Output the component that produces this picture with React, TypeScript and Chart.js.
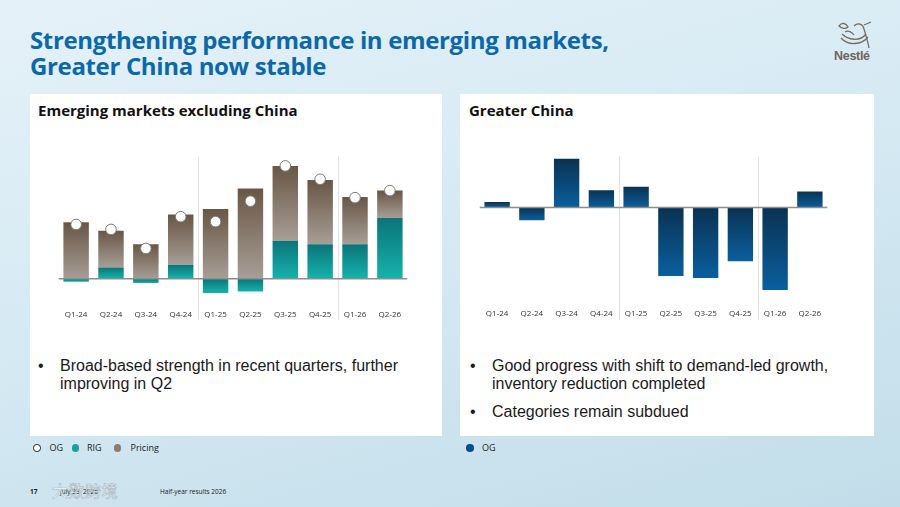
import React, { useEffect, useRef } from "react";
import { Chart, registerables } from "chart.js";

Chart.register(...registerables);

const quarters = ["Q1-24", "Q2-24", "Q3-24", "Q4-24", "Q1-25", "Q2-25", "Q3-25", "Q4-25", "Q1-26", "Q2-26"];
const emRig = [-0.4, 1.6, -0.6, 2.0, -2.0, -1.8, 5.4, 4.9, 4.9, 8.6];
const emPricing = [8.0, 5.2, 4.9, 7.1, 9.9, 12.8, 10.6, 9.1, 6.7, 3.9];
const emOg = [7.7, 7.0, 4.3, 8.8, 8.1, 11.0, 16.0, 14.1, 11.5, 12.5];
const gcOg = [0.8, -1.8, 7.0, 2.5, 3.0, -9.8, -10.1, -7.7, -11.8, 2.3];
const yearStarts = [4, 8];

const FONT = "'Open Sans', 'Liberation Sans', sans-serif";

function barGradient(c: any, from: number, to: number, topColor: string, bottomColor: string) {
  const chart = c.chart;
  const y = chart.scales && chart.scales.y;
  if (!y) return topColor;
  const p0 = y.getPixelForValue(from);
  const p1 = y.getPixelForValue(to);
  if (!isFinite(p0) || !isFinite(p1)) return topColor;
  const top = Math.min(p0, p1);
  let bottom = Math.max(p0, p1);
  if (bottom - top < 1) bottom = top + 1;
  const g = chart.ctx.createLinearGradient(0, top, 0, bottom);
  g.addColorStop(0, topColor);
  g.addColorStop(1, bottomColor);
  return g;
}

const decorPlugin = {
  id: "decor",
  beforeDatasetsDraw(chart: any) {
    const x = chart.scales.x;
    const area = chart.chartArea;
    const g = chart.ctx;
    g.save();
    g.strokeStyle = "#e2e2e2";
    g.lineWidth = 1;
    yearStarts.forEach((i) => {
      const px = Math.round((x.getPixelForTick(i - 1) + x.getPixelForTick(i)) / 2) + 0.5;
      g.beginPath();
      g.moveTo(px, area.top);
      g.lineTo(px, area.bottom + 19);
      g.stroke();
    });
    g.restore();
  },
  afterDatasetsDraw(chart: any) {
    const y = chart.scales.y;
    const area = chart.chartArea;
    const g = chart.ctx;
    const py = y.getPixelForValue(0);
    g.save();
    g.strokeStyle = "#8d8d8d";
    g.lineWidth = 1.5;
    g.beginPath();
    g.moveTo(area.left, py);
    g.lineTo(area.right, py);
    g.stroke();
    g.restore();
  },
};

function xAxis() {
  return {
    stacked: true,
    grid: { display: false, drawTicks: false },
    border: { display: false },
    ticks: { color: "#333", font: { family: FONT, size: 8 }, padding: 9, maxRotation: 0, autoSkip: false },
  };
}

function EmChart() {
  const ref = useRef<HTMLCanvasElement>(null);
  useEffect(() => {
    const chart = new Chart(ref.current!, {
      type: "bar",
      data: {
        labels: quarters,
        datasets: [
          {
            type: "line",
            label: "OG",
            data: emOg,
            stack: "og",
            showLine: false,
            order: 0,
            pointRadius: 5.3,
            pointBackgroundColor: "#ffffff",
            pointBorderColor: "#7a7a7a",
            pointBorderWidth: 1,
          } as any,
          {
            label: "RIG",
            data: emRig,
            order: 1,
            backgroundColor: (c: any) =>
              barGradient(c, 0, emRig[c.dataIndex] ?? 0, "#0c7479", "#15b3ad"),
            categoryPercentage: 1,
            barPercentage: 0.73,
          },
          {
            label: "Pricing",
            data: emPricing,
            order: 1,
            backgroundColor: (c: any) => {
              const i = c.dataIndex ?? 0;
              const base = Math.max(emRig[i] ?? 0, 0);
              return barGradient(c, base + (emPricing[i] ?? 0), base, "#695645", "#a79e96");
            },
            categoryPercentage: 1,
            barPercentage: 0.73,
          },
        ],
      },
      options: {
        animation: false,
        responsive: true,
        maintainAspectRatio: false,
        layout: { padding: 0, autoPadding: false },
        plugins: { legend: { display: false }, tooltip: { enabled: false } },
        scales: {
          x: xAxis() as any,
          y: { display: false, stacked: true, min: -3.2, max: 17.4 },
        },
      },
      plugins: [decorPlugin],
    });
    return () => chart.destroy();
  }, []);
  return <canvas ref={ref} />;
}

function GcChart() {
  const ref = useRef<HTMLCanvasElement>(null);
  useEffect(() => {
    const chart = new Chart(ref.current!, {
      type: "bar",
      data: {
        labels: quarters,
        datasets: [
          {
            label: "OG",
            data: gcOg,
            backgroundColor: (c: any) => barGradient(c, 0, gcOg[c.dataIndex] ?? 0, "#0a3252", "#0a5f9e"),
            categoryPercentage: 1,
            barPercentage: 0.73,
          },
        ],
      },
      options: {
        animation: false,
        responsive: true,
        maintainAspectRatio: false,
        layout: { padding: 0, autoPadding: false },
        plugins: { legend: { display: false }, tooltip: { enabled: false } },
        scales: {
          x: xAxis() as any,
          y: { display: false, stacked: true, min: -13.3, max: 7.4 },
        },
      },
      plugins: [decorPlugin],
    });
    return () => chart.destroy();
  }, []);
  return <canvas ref={ref} />;
}

const abs = (l: number, t: number, extra: React.CSSProperties = {}): React.CSSProperties => ({
  position: "absolute",
  left: l,
  top: t,
  ...extra,
});

const bulletText: React.CSSProperties = {
  fontFamily: "'Liberation Sans', Arial, sans-serif",
  fontSize: 16,
  lineHeight: "17.5px",
  color: "#1a1a1a",
};

function Bullet({ top, left, lines }: { top: number; left: number; lines: string[] }) {
  return (
    <div style={abs(left, top, { ...bulletText, width: 400 })}>
      <span style={{ position: "absolute", left: 0, top: 0 }}>•</span>
      <div style={{ marginLeft: 22 }}>
        {lines.map((l, i) => (
          <div key={i}>{l}</div>
        ))}
      </div>
    </div>
  );
}

function Dot({ cx, cy, color, border }: { cx: number; cy: number; color: string; border?: string }) {
  return (
    <span
      style={abs(cx - 3.75, cy - 3.75, {
        width: 7.5,
        height: 7.5,
        borderRadius: "50%",
        background: color,
        border: border ? `1.5px solid ${border}` : "none",
        boxSizing: "border-box",
      })}
    />
  );
}

const legendText: React.CSSProperties = {
  fontFamily: FONT,
  fontSize: 9,
  lineHeight: "12px",
  color: "#222",
};

function LegendLabel({ x, text }: { x: number; text: string }) {
  return <span style={abs(x, 442, legendText)}>{text}</span>;
}

export default function App() {
  return (
    <div
      style={{
        position: "fixed",
        left: 0,
        top: 0,
        width: 900,
        height: 507,
        overflow: "hidden",
        background: "linear-gradient(165deg, #e5f1f8 0%, #d6eaf3 45%, #c2dde9 100%)",
      }}
    >
      <div
        style={abs(30, 27, {
          fontFamily: FONT,
          fontWeight: 700,
          fontSize: 24,
          lineHeight: "26px",
          color: "#0b69a8",
          letterSpacing: -0.35,
        })}
      >
        <div>Strengthening performance in emerging markets,</div>
        <div>Greater China now stable</div>
      </div>

      <svg style={abs(836, 20)} width="38" height="30" viewBox="0 0 38 30">
        <g fill="none" stroke="#776c61" strokeWidth="1.3">
          <path d="M3 6 C6 2 10 3 12 7 C10 9 6 9 3 6 Z" />
          <path d="M6 14 C12 20 24 22 30 14" />
          <path d="M5 18 C12 26 26 25 32 17" />
          <path d="M18 6 C22 2 27 4 28 9 C30 16 32 22 33 28" />
          <path d="M28 5 L35 2" />
          <path d="M9 12 C12 10 16 12 18 15" />
        </g>
      </svg>
      <div
        style={abs(834, 49, {
          fontFamily: "'Liberation Sans', Arial, sans-serif",
          fontWeight: 700,
          fontSize: 12.5,
          color: "#6f655b",
          letterSpacing: -0.3,
        })}
      >
        Nestlé
      </div>

      {/* Left panel */}
      <div style={abs(30, 94, { width: 412, height: 342, background: "#ffffff" })} />
      <div
        style={abs(38, 100, {
          fontFamily: FONT,
          fontWeight: 700,
          fontSize: 15,
          color: "#111",
        })}
      >
        Emerging markets excluding China
      </div>
      <div style={abs(56, 156, { width: 354, height: 173 })}>
        <EmChart />
      </div>
      <Bullet top={357} left={38} lines={["Broad-based strength in recent quarters, further", "improving in Q2"]} />

      {/* Right panel */}
      <div style={abs(460, 94, { width: 414, height: 342, background: "#ffffff" })} />
      <div
        style={abs(469, 100, {
          fontFamily: FONT,
          fontWeight: 700,
          fontSize: 15,
          color: "#111",
        })}
      >
        Greater China
      </div>
      <div style={abs(477, 156, { width: 353, height: 172 })}>
        <GcChart />
      </div>
      <Bullet
        top={357}
        left={470}
        lines={["Good progress with shift to demand-led growth,", "inventory reduction completed"]}
      />
      <Bullet top={403} left={470} lines={["Categories remain subdued"]} />

      {/* Legends */}
      <Dot cx={37} cy={448} color="#ffffff" border="#222" />
      <LegendLabel x={49.5} text="OG" />
      <Dot cx={75.7} cy={448} color="#12a59f" />
      <LegendLabel x={87} text="RIG" />
      <Dot cx={117.3} cy={448} color="#8d7c6c" />
      <LegendLabel x={130.5} text="Pricing" />
      <Dot cx={470} cy={448} color="#0a4f86" />
      <LegendLabel x={482} text="OG" />

      {/* Footer */}
      <div style={abs(30, 487, { fontFamily: FONT, fontSize: 6.5, fontWeight: 700, color: "#222" })}>17</div>
      <div style={abs(60, 487, { fontFamily: FONT, fontSize: 6.5, color: "#222" })}>July 23, 2026</div>
      <div style={abs(160, 487, { fontFamily: FONT, fontSize: 6.5, color: "#222" })}>Half-year results 2026</div>
      <div
        style={abs(52, 478, {
          fontFamily: "'Noto Sans CJK SC', sans-serif",
          fontSize: 16,
          color: "rgba(255,255,255,0.85)",
          letterSpacing: 0.5,
          WebkitTextStroke: "0.6px rgba(110,130,140,0.55)",
        } as any)}
      >
        大数跨境
      </div>
    </div>
  );
}
